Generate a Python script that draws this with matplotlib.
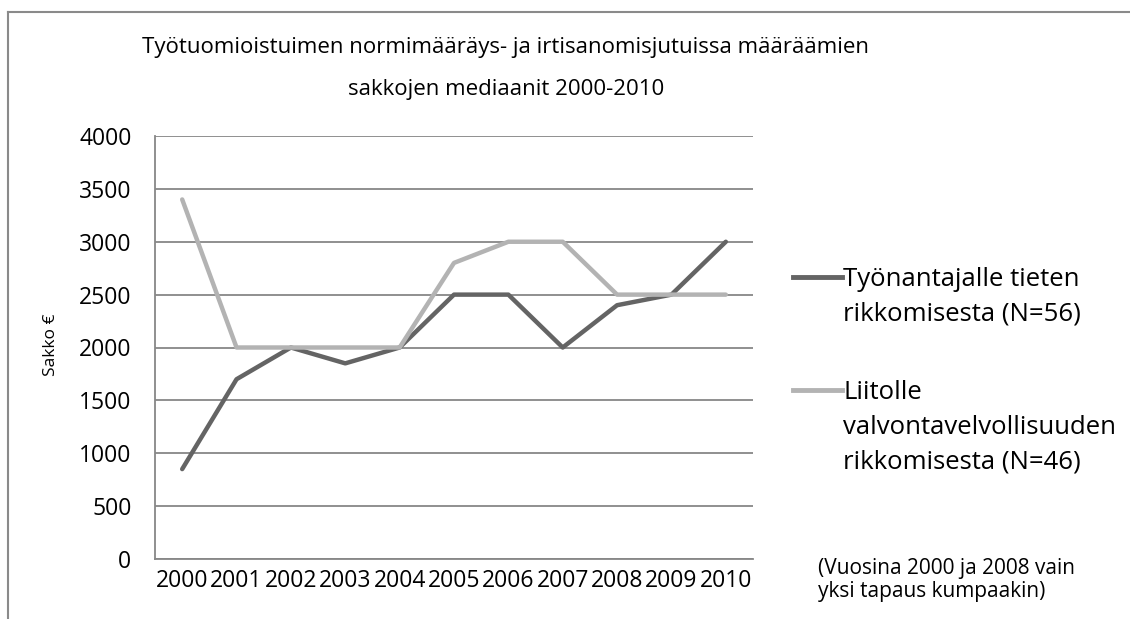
import matplotlib.pyplot as plt
from matplotlib.lines import Line2D

# Median fines per year
years = ['2000', '2001', '2002', '2003', '2004', '2005', '2006', '2007', '2008', '2009', '2010']
employer = [850, 1700, 2000, 1850, 2000, 2500, 2500, 2000, 2400, 2500, 3000]
union = [3400, 2000, 2000, 2000, 2000, 2800, 3000, 3000, 2500, 2500, 2500]
yticks = [0, 500, 1000, 1500, 2000, 2500, 3000, 3500, 4000]

label_employer = 'Työnantajalle tieten\nrikkomisesta (N=56)'
label_union = 'Liitolle\nvalvontavelvollisuuden\nrikkomisesta (N=46)'
note = '(Vuosina 2000 ja 2008 vain\nyksi tapaus kumpaakin)'
title_lines = ['Työtuomioistuimen normimääräys- ja irtisanomisjutuissa määräämien',
               'sakkojen mediaanit 2000-2010']

dark = '#646464'
light = '#b3b3b3'
grid = '#878787'

plt.rcParams['font.family'] = ['Open Sans', 'DejaVu Sans']

W, H = 1130, 619
fig = plt.figure(figsize=(W / 100, H / 100), dpi=100)
ax = fig.add_axes([155 / W, 1 - 559 / H, 598 / W, 423 / H])

x = range(len(years))
ax.plot(x, employer, color=dark, linewidth=3.2, solid_capstyle='round', zorder=3)
ax.plot(x, union, color=light, linewidth=3.2, solid_capstyle='round', zorder=3)

ax.set_xlim(-0.5, len(years) - 0.5)
ax.set_ylim(0, 4000)
ax.set_yticks(yticks)
ax.set_yticklabels([str(v) for v in yticks], fontsize=16.5)
ax.set_xticks(list(x))
ax.set_xticklabels(years, fontsize=16.5)
ax.tick_params(axis='y', length=0, pad=17)
ax.tick_params(axis='x', length=0, pad=7)
for v in yticks:
    ax.axhline(v, color=grid, linewidth=1.3, zorder=1)

for s in ['top', 'right']:
    ax.spines[s].set_visible(False)
for s in ['left', 'bottom']:
    ax.spines[s].set_color(grid)
    ax.spines[s].set_linewidth(1.3)

fig.text(51 / W, 1 - 345 / H, 'Sakko €', rotation=90, fontsize=12.5,
         ha='center', va='center')
for ypix, line in zip([47, 90], title_lines):
    fig.text(506 / W, 1 - ypix / H, line, fontsize=16, ha='center', va='center')

# legend drawn by hand so the handle sits on the first text line
for ypix, col, lab in [(277, dark, label_employer), (390, light, label_union)]:
    yf = 1 - ypix / H
    fig.add_artist(Line2D([793 / W, 842 / W], [yf, yf], color=col,
                          linewidth=3.5, transform=fig.transFigure))
    fig.text(843 / W, yf + 10 / H, lab, fontsize=18.5, ha='left', va='top',
             linespacing=1.52)

fig.text(818 / W, 1 - 580 / H, note, fontsize=15, ha='left', va='center',
         linespacing=1.15)

# outer chart frame (no right or bottom edge visible in the original)
fc = '#8a8a8a'
fig.add_artist(Line2D([8 / W, 8 / W], [0, 1 - 12 / H], color=fc, linewidth=1.5,
                      transform=fig.transFigure))
fig.add_artist(Line2D([8 / W, 1.0], [1 - 12 / H, 1 - 12 / H], color=fc,
                      linewidth=1.5, transform=fig.transFigure))

fig.savefig('out.png', dpi=100)
